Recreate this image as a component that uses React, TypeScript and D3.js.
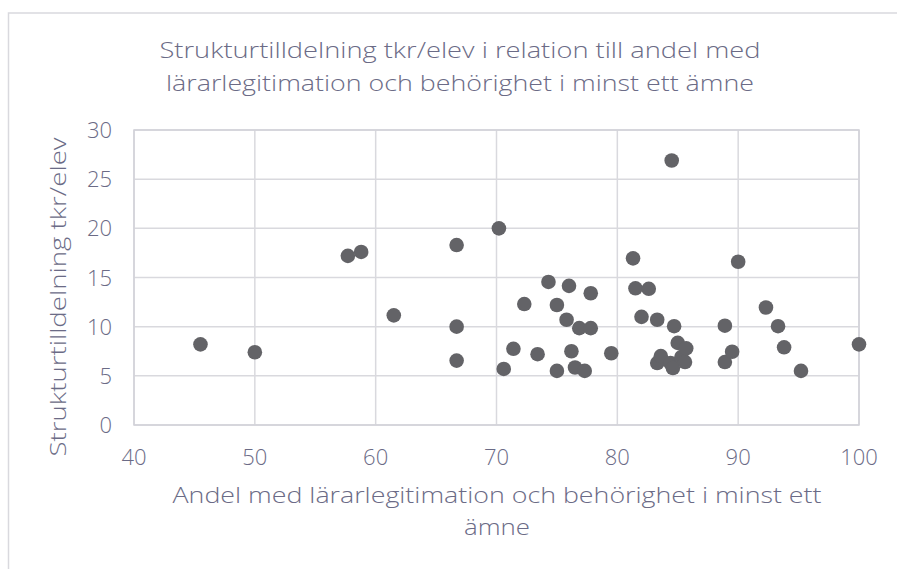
import { useEffect, useRef } from "react";
import * as d3 from "d3";

// andel med lärarlegitimation (%) per skola
const andel = [45.5, 50.0, 57.7, 58.8, 61.5, 66.7, 66.7, 66.7, 70.2, 70.6, 71.4, 72.3, 73.4, 74.3, 75.0, 75.0, 75.8, 76.0, 76.2, 76.5, 76.85, 77.3, 77.8, 77.8, 79.5, 81.3, 81.5, 82.0, 82.6, 83.3, 83.3, 83.6, 84.4, 84.5, 84.6, 84.7, 85.0, 85.3, 85.6, 85.7, 88.9, 88.9, 89.5, 90.0, 92.3, 93.3, 93.8, 95.2, 100];
// strukturtilldelning tkr/elev
const tilldelning = [8.2, 7.4, 17.2, 17.6, 11.15, 18.3, 10.0, 6.55, 20.0, 5.7, 7.75, 12.3, 7.2, 14.55, 12.2, 5.5, 10.7, 14.15, 7.5, 5.85, 9.85, 5.5, 13.4, 9.85, 7.3, 16.95, 13.9, 11.0, 13.85, 10.7, 6.3, 7.0, 6.3, 26.9, 5.8, 10.05, 8.35, 6.9, 6.4, 7.8, 10.1, 6.4, 7.45, 16.6, 11.95, 10.05, 7.9, 5.5, 8.2];

const xTicks = [40, 50, 60, 70, 80, 90, 100];
const yTicks = [0, 5, 10, 15, 20, 25, 30];
const titleLines = ["Strukturtilldelning tkr/elev i relation till andel med", "lärarlegitimation och behörighet i minst ett ämne"];
const xTitleLines = ["Andel med lärarlegitimation och behörighet i minst ett", "ämne"];
const yTitle = "Strukturtilldelning tkr/elev";

export default function App() {
  const ref = useRef<SVGSVGElement>(null);

  useEffect(() => {
    const el = ref.current;
    if (!el) return;
    const W = 897, H = 569;
    const M = { left: 134, right: 859, top: 130, bottom: 425 };
    const font = "'Open Sans', sans-serif";
    const txt = "#6b6b86";
    const grid = "#d9d9de";

    const svg = d3.select(el).attr("width", W).attr("height", H);
    svg.selectAll("*").remove();

    svg.append("rect").attr("x", 8.5).attr("y", 13).attr("width", 1000).attr("height", 1000)
      .attr("fill", "#fff").attr("stroke", "#d9d9de").attr("stroke-width", 1.5);

    const x = d3.scaleLinear().domain([40, 100]).range([M.left, M.right]);
    const y = d3.scaleLinear().domain([0, 30]).range([M.bottom, M.top]);

    // gridlines
    svg.append("g").selectAll("line").data(xTicks).join("line")
      .attr("x1", (d) => x(d)).attr("x2", (d) => x(d)).attr("y1", M.top).attr("y2", M.bottom)
      .attr("stroke", grid).attr("stroke-width", 1.5);
    svg.append("g").selectAll("line").data(yTicks).join("line")
      .attr("x1", M.left).attr("x2", M.right).attr("y1", (d) => y(d)).attr("y2", (d) => y(d))
      .attr("stroke", grid).attr("stroke-width", 1.5);
    svg.append("rect").attr("x", M.left).attr("y", M.top).attr("width", M.right - M.left).attr("height", M.bottom - M.top)
      .attr("fill", "none").attr("stroke", "#d2d2d9").attr("stroke-width", 1.5);

    const label = (s: d3.Selection<any, any, any, any>, size: number) =>
      s.attr("font-family", font).attr("font-weight", 300).attr("font-size", size).attr("fill", txt);

    // tick labels
    label(svg.append("g").selectAll("text").data(yTicks).join("text")
      .attr("x", 112).attr("y", (d) => y(d) + 8).attr("text-anchor", "end").text((d) => d), 22);
    label(svg.append("g").selectAll("text").data(xTicks).join("text")
      .attr("x", (d) => x(d)).attr("y", 465).attr("text-anchor", "middle").text((d) => d), 22);

    // points
    const pts = andel.map((a, i) => ({ a, t: tilldelning[i] }));
    svg.append("g").selectAll("circle").data(pts).join("circle")
      .attr("cx", (d) => x(d.a)).attr("cy", (d) => y(d.t)).attr("r", 7.3).attr("fill", "#636367");

    // titles
    const titleW = [601, 588];
    label(svg.append("g").selectAll("text").data(titleLines).join("text")
      .attr("x", 460).attr("y", (_, i) => 58 + i * 33).attr("text-anchor", "middle")
      .attr("textLength", (_, i) => titleW[i]).attr("lengthAdjust", "spacingAndGlyphs").text((d) => d), 22);
    const xTitleW = [649, 66];
    label(svg.append("g").selectAll("text").data(xTitleLines).join("text")
      .attr("x", 497).attr("y", (_, i) => 503 + i * 32).attr("text-anchor", "middle")
      .attr("textLength", (_, i) => xTitleW[i]).attr("lengthAdjust", "spacingAndGlyphs").text((d) => d), 22);
    label(svg.append("text").attr("transform", "translate(66,297) rotate(-90)").attr("text-anchor", "middle")
      .attr("textLength", 319).attr("lengthAdjust", "spacingAndGlyphs").text(yTitle), 22);
  }, []);

  return <svg ref={ref} style={{ position: "absolute", left: 0, top: 0 }} role="img" aria-label="Strukturtilldelning spridningsdiagram" />;
}
